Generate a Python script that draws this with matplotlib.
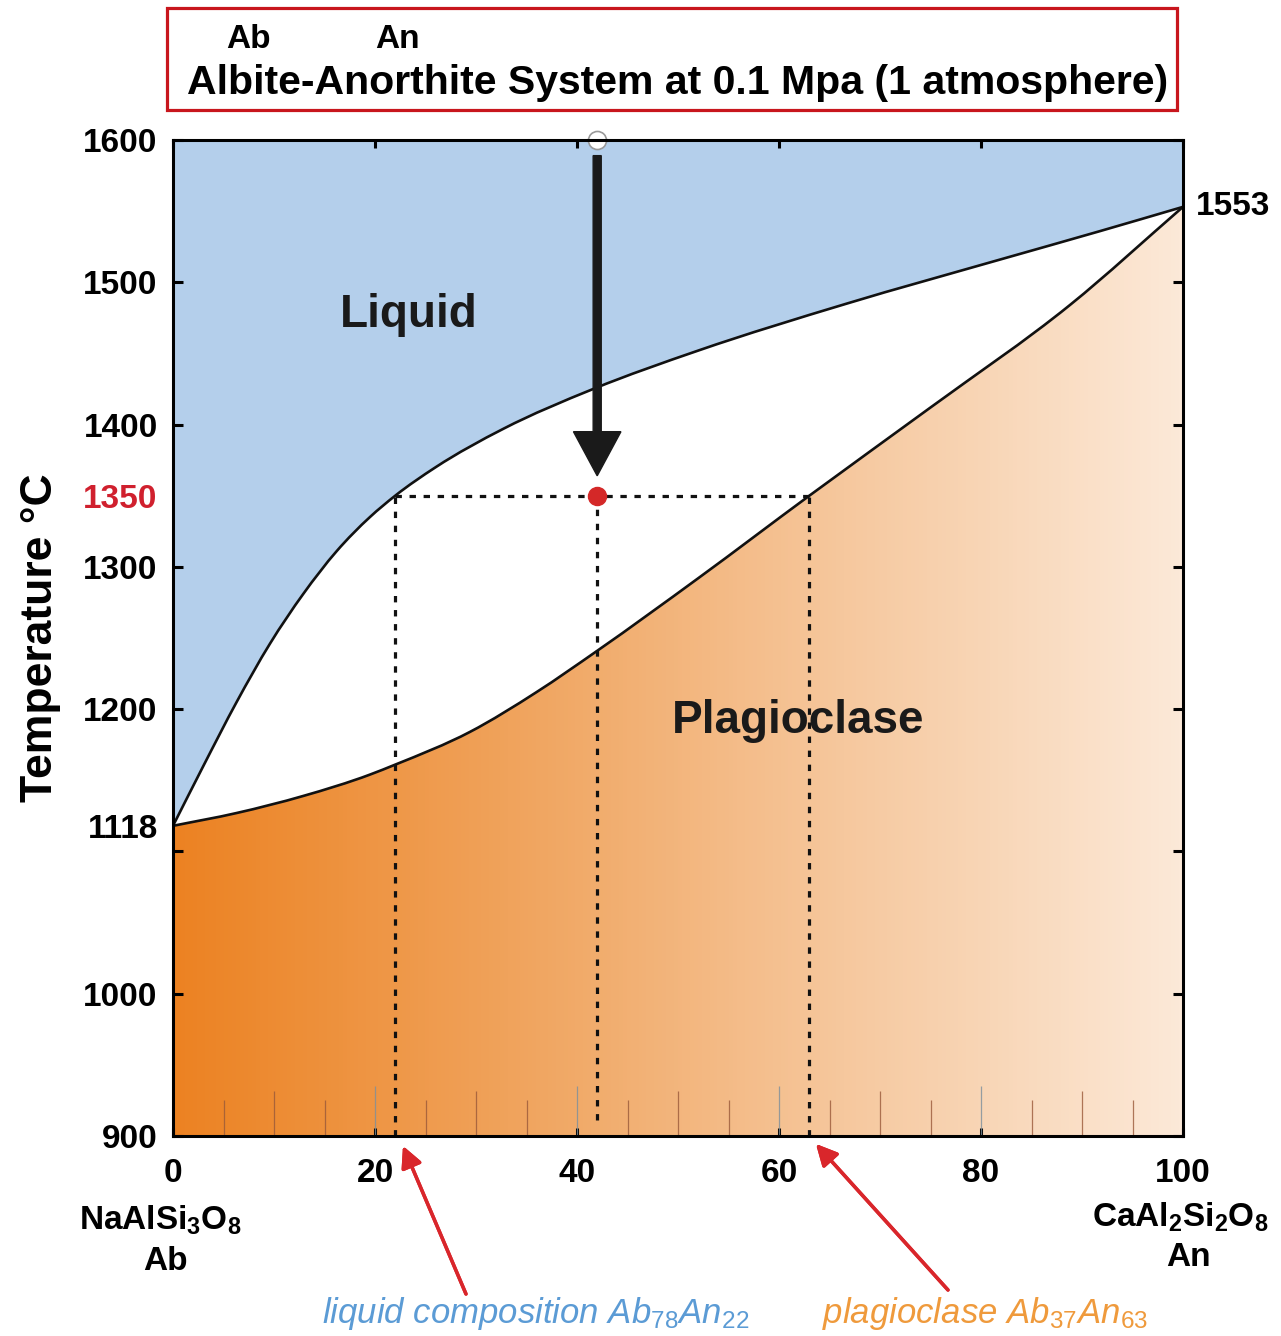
import numpy as np
import matplotlib
matplotlib.use("Agg")
import matplotlib.pyplot as plt
from matplotlib.colors import LinearSegmentedColormap
from matplotlib.patches import Rectangle, FancyArrow, PathPatch
from matplotlib.path import Path
from matplotlib.transforms import blended_transform_factory

plt.rcParams['font.family'] = ['Liberation Sans', 'DejaVu Sans']
plt.rcParams['mathtext.fontset'] = 'custom'
plt.rcParams['mathtext.rm'] = 'Liberation Sans'
plt.rcParams['mathtext.it'] = 'Liberation Sans:italic'
plt.rcParams['mathtext.bf'] = 'Liberation Sans:bold'

# liquidus / solidus of the Ab-An system (wt% An, deg C)
liq_an = [0, 3, 6.3, 9.6, 12.9, 16.2, 19.5, 22, 26, 32.7, 41.6, 52, 66.7, 81.9, 91.8, 100]
liq_t = [1118, 1160, 1205, 1246, 1281, 1311, 1335, 1350, 1370, 1397, 1425, 1452, 1485, 1516, 1536, 1553]
sol_an = [0, 6.3, 12.9, 19.5, 22, 29.4, 36, 42, 52, 63, 75, 88.8, 100]
sol_t = [1118, 1127, 1139, 1154, 1161, 1184, 1212, 1241, 1292, 1350, 1412, 1484, 1553]

# cooling path of the bulk composition
bulk_an = 42
t_start = 1600
t_cryst = 1350
liq_comp = 22
plag_comp = 63

xticks = [0, 20, 40, 60, 80, 100]
yticks = [900, 1000, 1100, 1200, 1300, 1400, 1500, 1600]
ytick_labels = ['900', '1000', '', '1200', '1300', '1400', '1500', '1600']

W, H = 1281, 1336
fx = lambda px: px / W
fy = lambda py: 1 - py / H


def bezier_through(xs, ys):
    """Cubic Hermite segments (as Bezier curves) through the given points."""
    x = np.asarray(xs, float)
    y = np.asarray(ys, float)
    h = np.diff(x)
    d = np.diff(y) / h
    m = np.empty_like(y)
    m[0], m[-1] = d[0], d[-1]
    m[1:-1] = (h[:-1] * d[1:] + h[1:] * d[:-1]) / (h[:-1] + h[1:])
    verts = [(x[0], y[0])]
    for i in range(len(h)):
        verts += [(x[i] + h[i] / 3, y[i] + m[i] * h[i] / 3),
                  (x[i + 1] - h[i] / 3, y[i + 1] - m[i + 1] * h[i] / 3),
                  (x[i + 1], y[i + 1])]
    codes = [Path.MOVETO] + [Path.CURVE4] * (len(verts) - 1)
    return verts, codes


def region(xs, ys, t_edge):
    verts, codes = bezier_through(xs, ys)
    verts = verts + [(xs[-1], t_edge), (xs[0], t_edge), (xs[0], ys[0])]
    codes = codes + [Path.LINETO, Path.LINETO, Path.CLOSEPOLY]
    return Path(verts, codes)


fig = plt.figure(figsize=(W / 100, H / 100), dpi=100)
ax = fig.add_axes([fx(173), fy(1136), (1183 - 173) / W, (1136 - 140) / H])
ax.set_xlim(0, 100)
ax.set_ylim(900, 1600)

# liquid field
ax.add_patch(PathPatch(region(liq_an, liq_t, 1600), facecolor='#b4cfeb', lw=0, zorder=1))

# plagioclase field with orange gradient
plag_cmap = LinearSegmentedColormap.from_list(
    'plag', ['#ec8222', '#f0a35c', '#f6c89e', '#fce9d8'])
plag_patch = PathPatch(region(sol_an, sol_t, 900), facecolor='none', lw=0)
ax.add_patch(plag_patch)
grad = np.linspace(0, 1, 256).reshape(1, -1)
img = ax.imshow(grad, extent=[0, 100, 900, 1600], aspect='auto', cmap=plag_cmap,
                origin='lower', zorder=1)
img.set_clip_path(plag_patch)

for xs, ys in [(liq_an, liq_t), (sol_an, sol_t)]:
    v, c = bezier_through(xs, ys)
    ax.add_patch(PathPatch(Path(v, c), fill=False, ec='#111111', lw=1.9, zorder=3))

# small scale marks along the bottom
trans = blended_transform_factory(ax.transData, ax.transAxes)
for x in range(5, 100, 5):
    h = 0.05 if x % 20 == 0 else (0.045 if x % 10 == 0 else 0.036)
    c = '#7d8f9c' if x % 20 == 0 else '#9a5a3a'
    ax.vlines(x, 0, h, transform=trans, colors=c, lw=0.9, alpha=0.8, zorder=2)

# tie lines at 1350
dot = (0, (2, 2.4))
ax.plot([liq_comp, plag_comp], [t_cryst, t_cryst], ls=dot, color='#111111', lw=2.3, zorder=4)
ax.vlines([liq_comp, plag_comp], 900, t_cryst, linestyles=[dot], colors='#111111', lw=2.3, zorder=4)
ax.vlines(bulk_an, 911, t_cryst, linestyles=[dot], colors='#111111', lw=2.3, zorder=4)

# cooling arrow
ax.add_patch(FancyArrow(bulk_an, t_start - 11, 0, t_cryst + 14 - (t_start - 11), width=0.8,
                        head_width=4.7, head_length=31, length_includes_head=True,
                        color='#1a1a1a', zorder=5))
ax.plot(bulk_an, t_start, 'o', ms=13, mfc='white', mec='#999999', mew=1.2,
        clip_on=False, zorder=6)
ax.plot(bulk_an, t_cryst, 'o', ms=13, color='#d42828', zorder=6)

ax.text(23.3, 1477, 'Liquid', fontsize=33, weight='bold', color='#1a1a1a',
        ha='center', va='center', zorder=5)
ax.text(61.9, 1192, 'Plagioclase', fontsize=33, weight='bold', color='#1a1a1a',
        ha='center', va='center', zorder=5)

# axes styling
for s in ax.spines.values():
    s.set_linewidth(2.2)
    s.set_zorder(6)
ax.set_xticks(xticks)
ax.set_xticklabels([str(v) for v in xticks], weight='bold')
ax.set_yticks(yticks)
ax.set_yticklabels(ytick_labels, weight='bold')
ax.set_yticks([1118, 1350], labels=['1118', '1350'], minor=True)
for lab in ax.get_yticklabels(minor=True):
    lab.set_weight('bold')
ax.get_yticklabels(minor=True)[1].set_color('#d0202e')
ax.tick_params(axis='x', which='major', direction='in', length=6, width=2.2,
               top=True, labelsize=24, pad=16)
ax.tick_params(axis='y', which='major', direction='in', length=7, width=2.2,
               right=True, labelsize=24, pad=11)
ax.tick_params(axis='y', which='minor', length=0, labelsize=24, pad=11)
ax.set_ylabel('Temperature °C', fontsize=32, weight='bold', labelpad=16)

ax.text(1.013, 1553, '1553', transform=blended_transform_factory(ax.transAxes, ax.transData),
        fontsize=24, weight='bold', ha='left', va='center')

# end-member formulas
fig.text(fx(160), fy(1220), r'$\mathbf{NaAlSi}_\mathbf{3}\mathbf{O}_\mathbf{8}$',
         fontsize=24, ha='center', va='center')
fig.text(fx(165), fy(1262), 'Ab', fontsize=24, weight='bold', ha='center', va='center')
fig.text(fx(1180), fy(1217), r'$\mathbf{CaAl}_\mathbf{2}\mathbf{Si}_\mathbf{2}\mathbf{O}_\mathbf{8}$',
         fontsize=24, ha='center', va='center')
fig.text(fx(1188), fy(1258), 'An', fontsize=24, weight='bold', ha='center', va='center')

# phase composition labels
fig.text(fx(536), fy(1313), r'liquid composition Ab$_{\mathit{78}}$An$_{\mathit{22}}$',
         fontsize=25, style='italic', color='#5b9bd5', ha='center', va='center')
fig.text(fx(985), fy(1313), r'plagioclase Ab$_{\mathit{37}}$An$_{\mathit{63}}$',
         fontsize=25, style='italic', color='#ef9a3c', ha='center', va='center')
red_arrow = dict(arrowstyle='-|>', lw=2.5, color='#d9262b', mutation_scale=32,
                 shrinkA=0, shrinkB=0)
fig.add_artist(plt.annotate('', xy=(fx(403), fy(1146)), xytext=(fx(466), fy(1294)),
                            xycoords='figure fraction', arrowprops=red_arrow))
fig.add_artist(plt.annotate('', xy=(fx(816), fy(1144)), xytext=(fx(948), fy(1290)),
                            xycoords='figure fraction', arrowprops=red_arrow))

# title box
fig.add_artist(Rectangle((fx(167), fy(110)), (1177 - 167) / W, (110 - 8) / H,
                         transform=fig.transFigure, fill=False, ec='#c8161d', lw=2.3))
fig.text(fx(248), fy(40), 'Ab', fontsize=24, weight='bold', ha='center', va='center')
fig.text(fx(397), fy(40), 'An', fontsize=24, weight='bold', ha='center', va='center')
fig.text(fx(678), fy(83), 'Albite-Anorthite System at 0.1 Mpa (1 atmosphere)',
         fontsize=29.5, weight='bold', ha='center', va='center')

fig.savefig('out.png', dpi=100)
